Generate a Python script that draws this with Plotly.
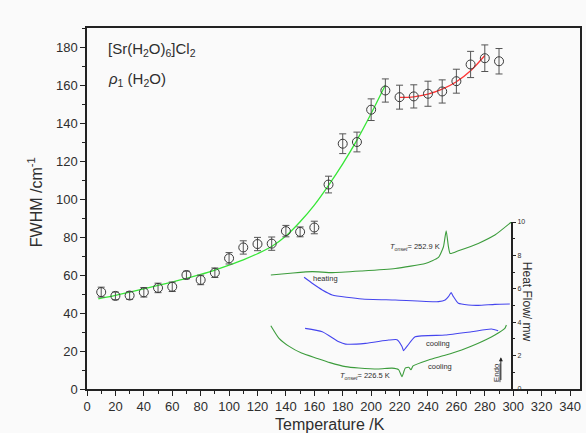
import plotly.graph_objects as go

# ---- main data: FWHM vs temperature ----
temps = [10, 20, 30, 40, 50, 60, 70, 80, 90, 100, 110, 120, 130, 140, 150, 160, 170, 180, 190, 200,
         210, 220, 230, 240, 250, 260, 270, 280, 290]
fwhm = [51.0, 49.0, 49.2, 50.9, 53.2, 53.8, 60.0, 57.4, 61.2, 68.8, 74.5, 76.3, 76.5, 83.1, 82.7, 85.0,
        107.6, 129.1, 130.0, 147.0, 157.1, 153.6, 154.0, 155.4, 156.6, 162.0, 170.8, 174.1, 172.5]
fwhm_err = [2.6, 2.0, 2.0, 2.5, 2.5, 2.5, 2.0, 2.5, 2.5, 3.0, 3.5, 3.5, 3.5, 3.0, 2.6, 3.3,
            4.4, 5.2, 5.2, 5.7, 6.1, 6.3, 6.1, 6.6, 6.1, 6.3, 6.9, 7.0, 6.7]

# fit curves
fit_low_T = [8, 20, 30, 40, 50, 60, 70, 80, 90, 100, 110, 120, 130, 140, 150, 160, 170, 180, 190, 200, 210]
fit_low_V = [47.5, 49.3, 51.0, 52.7, 54.5, 56.3, 58.2, 60.3, 62.6, 65.2, 68.0, 71.2, 75.0, 80.5, 88.0,
             96.8, 107.2, 118.5, 131.0, 145.0, 160.0]
fit_high_T = [220, 230, 240, 250, 260, 270, 280]
fit_high_V = [153.5, 153.8, 155.2, 157.8, 161.7, 167.5, 175.5]

# ---- inset data: DSC heat flow ----
heat_g_T = [129.4, 145, 158.6, 172.6, 193.6, 217.0, 238.1, 247.4, 250.9, 252.8, 254.4, 255.6, 261.4, 275.4, 287.1, 298.7]
heat_g_H = [6.83, 6.95, 7.03, 6.97, 7.07, 7.22, 7.52, 7.88, 8.52, 9.48, 8.52, 8.12, 8.28, 8.72, 9.22, 10.0]

heat_b_T = [152.8, 159, 165.6, 172.6, 193.6, 217.0, 247.4, 252.1, 254.4, 256.3, 257.9, 261.4, 268.4, 275.4, 287.1, 297.6]
heat_b_H = [6.69, 6.3, 5.93, 5.63, 5.39, 5.33, 5.23, 5.33, 5.53, 5.77, 5.53, 5.13, 5.03, 5.01, 5.07, 5.09]

cool_b_T = [153.5, 165.6, 177.3, 182.0, 196.0, 212.3, 218.2, 221.7, 222.8, 225.2, 231.0, 252.1, 270.7, 284.7, 289.4]
cool_b_H = [3.63, 3.43, 2.83, 2.69, 2.73, 2.93, 2.95, 2.55, 2.30, 2.55, 3.13, 3.23, 3.43, 3.59, 3.49]

cool_g_T = [129.4, 135.0, 142.3, 151.0, 161.0, 171.0, 182.0, 191.3, 205.3, 214.7, 219.3, 221.7, 224.0, 226.5,
            228.0, 229.5, 240.4, 252.0, 263.7, 275.0, 287.1, 294.1, 295.2]
cool_g_H = [3.79, 3.05, 2.55, 2.15, 1.86, 1.58, 1.34, 1.26, 1.20, 1.25, 1.16, 0.74, 1.25, 1.30,
            1.15, 1.38, 1.74, 2.02, 2.34, 2.72, 3.23, 3.63, 3.83]

FONT = "Liberation Sans, Arial, sans-serif"
TXT = "#2e2e2e"

fig = go.Figure()

fig.add_trace(go.Scatter(x=fit_low_T, y=fit_low_V, mode="lines", line=dict(color="#36e636", width=1.3, shape="spline"),
                         showlegend=False, hoverinfo="skip"))
fig.add_trace(go.Scatter(x=fit_high_T, y=fit_high_V, mode="lines", line=dict(color="#ff3333", width=1.3, shape="spline"),
                         showlegend=False, hoverinfo="skip"))
fig.add_trace(go.Scatter(x=temps, y=fwhm, mode="markers",
                         marker=dict(symbol="circle-open", size=9, color="#3a3a3a", line=dict(width=1)),
                         error_y=dict(type="data", array=fwhm_err, visible=True, color="#555555", thickness=1, width=3.5),
                         showlegend=False))

# DSC inset traces
for xs, ys, col in [(heat_g_T, heat_g_H, "#3c9c3c"), (heat_b_T, heat_b_H, "#4545ee"),
                    (cool_b_T, cool_b_H, "#4545ee"), (cool_g_T, cool_g_H, "#3c9c3c")]:
    fig.add_trace(go.Scatter(x=xs, y=ys, xaxis="x", yaxis="y2", mode="lines",
                             line=dict(color=col, width=1.1, shape="spline", smoothing=0.5),
                             showlegend=False, hoverinfo="skip"))

fig.update_layout(
    width=586, height=433,
    margin=dict(l=87, r=4, t=28, b=44),
    paper_bgcolor="#fafafa", plot_bgcolor="rgba(0,0,0,0)",
    font=dict(family=FONT, color=TXT),
    xaxis=dict(range=[0, 347], tickmode="array", tickvals=list(range(0, 341, 20)),
               ticks="outside", ticklen=5, tickwidth=1.3, tickcolor="#222",
               minor=dict(ticks="outside", ticklen=3, dtick=10, tick0=0, tickcolor="#222", tickwidth=1),
               showline=True, linecolor="#222", linewidth=1.5, mirror=True, showgrid=False, zeroline=False,
               tickfont=dict(size=13, color=TXT, family=FONT)),
    yaxis=dict(range=[0, 190], tickmode="array", tickvals=list(range(0, 181, 20)),
               ticks="outside", ticklen=5, tickwidth=1.3, tickcolor="#222",
               minor=dict(ticks="outside", ticklen=3, dtick=10, tick0=0, tickcolor="#222", tickwidth=1),
               showline=True, linecolor="#222", linewidth=1.5, mirror=True, showgrid=False, zeroline=False,
               tickfont=dict(size=13, color=TXT, family=FONT)),
    yaxis2=dict(domain=[0, 0.4626], range=[0, 10], anchor="free", position=0.8626, side="right",
                tickmode="array", tickvals=[0, 2, 4, 6, 8, 10], ticks="outside", ticklen=3, tickcolor="#222",
                minor=dict(ticks="outside", ticklen=2, dtick=1, tick0=0, tickcolor="#222"),
                showline=True, linecolor="#222", linewidth=1.5, showgrid=False, zeroline=False,
                tickfont=dict(size=7, color=TXT, family=FONT)),
)

ann = []
ann.append(dict(text="[Sr(H<sub>2</sub>O)<sub>6</sub>]Cl<sub>2</sub>", xref="paper", yref="paper",
                x=(106 - 87) / 495, y=(389 - 50) / 361, xanchor="left", yanchor="middle", showarrow=False,
                font=dict(size=15, color=TXT)))
ann.append(dict(text="<i>ρ</i><sub>1</sub> (H<sub>2</sub>O)", xref="paper", yref="paper",
                x=(106 - 87) / 495, y=(389 - 80) / 361, xanchor="left", yanchor="middle", showarrow=False,
                font=dict(size=15, color=TXT)))
ann.append(dict(text="FWHM /cm<sup>-1</sup>", xref="paper", yref="paper", textangle=-90,
                x=(35 - 87) / 495, y=(389 - 202) / 361, xanchor="center", yanchor="middle", showarrow=False,
                font=dict(size=16, color=TXT)))
ann.append(dict(text="Temperature /K", xref="paper", yref="paper",
                x=(331 - 87) / 495, y=(389 - 424) / 361, xanchor="center", yanchor="middle", showarrow=False,
                font=dict(size=16, color=TXT)))
ann.append(dict(text="Heat Flow/ mw", xref="paper", yref="paper", textangle=90,
                x=(529 - 87) / 495, y=(389 - 302) / 361, xanchor="center", yanchor="middle", showarrow=False,
                font=dict(size=12, color=TXT)))
small = dict(size=7.5, color=TXT)
ann.append(dict(text="heating", x=167.8, y=6.6, xref="x", yref="y2", showarrow=False, font=small))
ann.append(dict(text="cooling", x=247.4, y=2.75, xref="x", yref="y2", showarrow=False, font=small))
ann.append(dict(text="cooling", x=248.5, y=1.35, xref="x", yref="y2", showarrow=False, font=small))
ann.append(dict(text="<i>T</i><sub><i>onset</i></sub>= 252.9 K", x=230.6, y=8.48, xref="x", yref="y2",
                showarrow=False, font=small))
ann.append(dict(text="<i>T</i><sub><i>onset</i></sub>= 226.5 K", x=195.7, y=0.76, xref="x", yref="y2",
                showarrow=False, font=small))
ann.append(dict(text="<u>Endo</u>", x=287.8, y=1.0, xref="x", yref="y2", textangle=-90, showarrow=False,
                font=dict(size=8, color=TXT)))
ann.append(dict(text="", x=291.3, y=1.9, xref="x", yref="y2", ax=291.3, ay=0.45, axref="x", ayref="y2",
                showarrow=True, arrowhead=2, arrowsize=0.8, arrowwidth=1, arrowcolor="#222"))
fig.update_layout(annotations=ann)

fig.write_html("out.html")
